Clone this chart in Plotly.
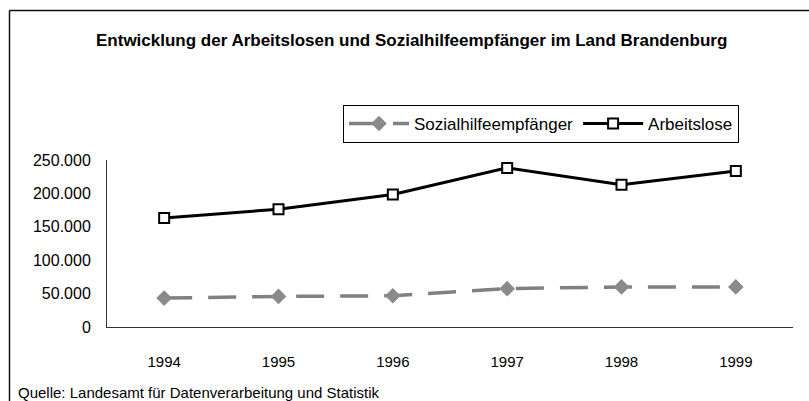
import plotly.graph_objects as go

years = ["1994", "1995", "1996", "1997", "1998", "1999"]
sozialhilfe = [43300, 45800, 46800, 57400, 60000, 60000]
arbeitslose = [163100, 176300, 198300, 238200, 213000, 233700]
y_tickvals = [0, 50000, 100000, 150000, 200000, 250000]
y_ticktext = ["0", "50.000", "100.000", "150.000", "200.000", "250.000"]

FONT = "Liberation Sans, Arial, sans-serif"

fig = go.Figure()
fig.add_trace(go.Scatter(
    x=years, y=sozialhilfe, name="Sozialhilfeempfänger", mode="lines+markers",
    line=dict(color="#808080", width=3.5, dash="28px,16px"),
    marker=dict(symbol="diamond", size=12, color="#8a8a8a"),
))
fig.add_trace(go.Scatter(
    x=years, y=arbeitslose, name="Arbeitslose", mode="lines+markers",
    line=dict(color="#000000", width=3),
    marker=dict(symbol="square", size=10, color="white", line=dict(color="black", width=2)),
))

L, R, T, B = 107, 16, 160, 74
W, H = 809, 401
pw, ph = W - L - R, H - T - B

def px(x):
    return (x - L) / pw

def py(y):
    return (H - B - y) / ph

fig.update_layout(
    width=W, height=H,
    margin=dict(l=L, r=R, t=T, b=B),
    paper_bgcolor="white", plot_bgcolor="white",
    font=dict(family=FONT, size=15, color="black"),
    showlegend=True,
    legend=dict(
        orientation="h", x=px(343), y=py(105), xanchor="left", yanchor="top",
        bordercolor="black", borderwidth=1, bgcolor="white",
        font=dict(size=17, family=FONT), itemwidth=60,
        tracegroupgap=0,
    ),
    xaxis=dict(
        type="category", range=[-0.5, 5.5], showgrid=False, zeroline=False,
        showline=True, linecolor="#333333", linewidth=1, ticks="",
        ticklabelstandoff=21, tickfont=dict(size=15, family=FONT),
    ),
    yaxis=dict(
        range=[0, 250000], showgrid=False, zeroline=False, showline=True,
        linecolor="#333333", linewidth=1, ticks="",
        tickvals=y_tickvals, ticktext=y_ticktext,
        ticklabelstandoff=12, tickfont=dict(size=16, family=FONT),
    ),
    annotations=[
        dict(text="<b>Entwicklung der Arbeitslosen und Sozialhilfeempfänger im Land Brandenburg</b>",
             xref="paper", yref="paper", x=px(411), y=py(40), xanchor="center", yanchor="middle",
             showarrow=False, font=dict(size=17, family=FONT)),
        dict(text="Quelle: Landesamt für Datenverarbeitung und Statistik",
             xref="paper", yref="paper", x=px(16), y=py(392), xanchor="left", yanchor="middle",
             showarrow=False, font=dict(size=15, family=FONT)),
    ],
    shapes=[
        dict(type="line", xref="paper", yref="paper", x0=px(9.5), x1=px(809), y0=py(10.5), y1=py(10.5),
             line=dict(color="#111111", width=1.5)),
        dict(type="line", xref="paper", yref="paper", x0=px(9.5), x1=px(9.5), y0=py(10.5), y1=py(401),
             line=dict(color="#111111", width=1.5)),
    ],
)

fig.write_html("out.html", config={"displayModeBar": False})

# remove the browser's default page margin so the figure sits at the window origin
with open("out.html", "r", encoding="utf-8") as f:
    html = f.read()
html = html.replace("<head>", "<head><style>html,body{margin:0;padding:0;overflow:hidden;}</style>", 1)
with open("out.html", "w", encoding="utf-8") as f:
    f.write(html)
